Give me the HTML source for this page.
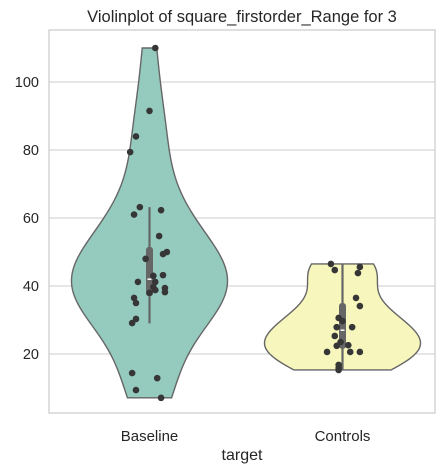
<!DOCTYPE html>
<html><head><meta charset="utf-8"><style>
html,body{margin:0;padding:0;background:#fff;width:446px;height:473px;overflow:hidden}
svg{display:block;font-family:"Liberation Sans",sans-serif}
</style></head><body>
<svg id="chart" width="446" height="473"></svg>
<script>
const categories = ["Baseline","Controls"];
const baselineValues = [110,91.5,84,79.4,63.2,61,62.3,54.7,49.4,50,48,43,43.2,41.2,41.2,39.7,39.4,38.2,38.8,38,36.5,35,30.3,29.1,14.4,12.9,9.4,7.1];
const baselineJitter = [0.03,0,-0.07,-0.1,-0.05,-0.08,0.06,0.05,0.07,0.09,-0.02,0.02,0.07,-0.06,0.03,0.02,0.08,0.08,0.03,0,-0.08,-0.07,-0.07,-0.09,-0.09,0.04,-0.07,0.06];
const controlsValues = [46.5,44.7,45.6,43.8,36.5,34.1,30.6,29.7,27.9,27.9,25.3,23.5,22.4,22.6,20.6,20.6,20.6,16.8,15.9,15.3];
const controlsJitter = [-0.06,-0.04,0.09,0.08,0.07,0.09,-0.02,0,-0.03,0.05,-0.04,-0.01,-0.03,0.03,-0.08,0.04,0.09,-0.02,-0.02,-0.02];
const boxQ1 = [37, 21.5];
const boxQ3 = [51.5, 35];
const boxMedian = [42, 27];
const whiskerLow = [29, 15.3];
const whiskerHigh = [63.2, 46.5];
const yTicks = [20,40,60,80,100];
const fills = ["#95cbbf","#f7f6bd"];

const svg = document.getElementById('chart');
const NS = "http://www.w3.org/2000/svg";
const L=49,R=435,T=30,B=413;
const y = v => 422 - 3.4*v;
const bandW = (R-L)/categories.length;
const x = i => L + bandW*(i+0.5) + 4;
const halfMax = 78;
function mk(tag, attrs, parent){const e=document.createElementNS(NS,tag);for(const k in attrs)e.setAttribute(k,attrs[k]);(parent||svg).appendChild(e);return e;}

const frame = mk('rect',{x:L,y:T,width:R-L,height:B-T,fill:'#fff',stroke:'#cccccc','stroke-width':1.25});


yTicks.forEach(t=>{
  const g = mk('line',{x1:L,x2:R,y1:y(t),y2:y(t),stroke:'#cccccc','stroke-width':1});
  
  
  const lb = mk('text',{x:L-10,y:y(t)+5,'text-anchor':'end','font-size':14.5,fill:'#262626'});
  lb.textContent = t;
  
  
});

const series = [baselineValues, controlsValues];
const jitters = [baselineJitter, controlsJitter];
series.forEach((vals,ci)=>{
  const n=vals.length, mean=vals.reduce((a,b)=>a+b,0)/n;
  const sd=Math.sqrt(vals.reduce((a,b)=>a+(b-mean)**2,0)/(n-1));
  const bw=sd*Math.pow(n,-0.2);
  const mn=Math.min(...vals), mx=Math.max(...vals);
  const steps=100, dens=[];
  for(let k=0;k<=steps;k++){const v=mn+(mx-mn)*k/steps;let d=0;vals.forEach(p=>{d+=Math.exp(-0.5*((v-p)/bw)**2)});dens.push([v,d]);}
  const dm=Math.max(...dens.map(d=>d[1]));
  const cx=x(ci);
  let pts=dens.map(([v,d])=>`${cx+halfMax*d/dm},${y(v)}`);
  pts=pts.concat(dens.slice().reverse().map(([v,d])=>`${cx-halfMax*d/dm},${y(v)}`));
  const vio=mk('polygon',{points:pts.join(' '),fill:fills[ci],stroke:'#666666','stroke-width':1.4});
  
  
  const wk=mk('line',{x1:cx,x2:cx,y1:y(whiskerHigh[ci]),y2:y(whiskerLow[ci]),stroke:'#666666','stroke-width':2.2});
  
  
  const bx=mk('rect',{x:cx-3.5,y:y(boxQ3[ci]),width:7,height:y(boxQ1[ci])-y(boxQ3[ci]),rx:3,fill:'#666666'});
  
  
  const md=mk('line',{x1:cx-2,x2:cx+2,y1:y(boxMedian[ci]),y2:y(boxMedian[ci]),stroke:'#fff','stroke-width':1.5});
  
  
  vals.forEach((v,i)=>{
    const c=mk('circle',{cx:cx+jitters[ci][i]*bandW,cy:y(v),r:3.3,fill:'#363636'});
    
    
  });
  const lb=mk('text',{x:cx,y:441,'text-anchor':'middle','font-size':15,fill:'#262626'});
  lb.textContent=categories[ci];
  
  
});
const xt=mk('text',{x:(L+R)/2,y:460,'text-anchor':'middle','font-size':16,fill:'#262626'});
xt.textContent='target';


const tt=mk('text',{x:(L+R)/2,y:22,'text-anchor':'middle','font-size':16.5,fill:'#262626'});
tt.textContent='Violinplot of square_firstorder_Range for 3';


</script>
</body></html>
